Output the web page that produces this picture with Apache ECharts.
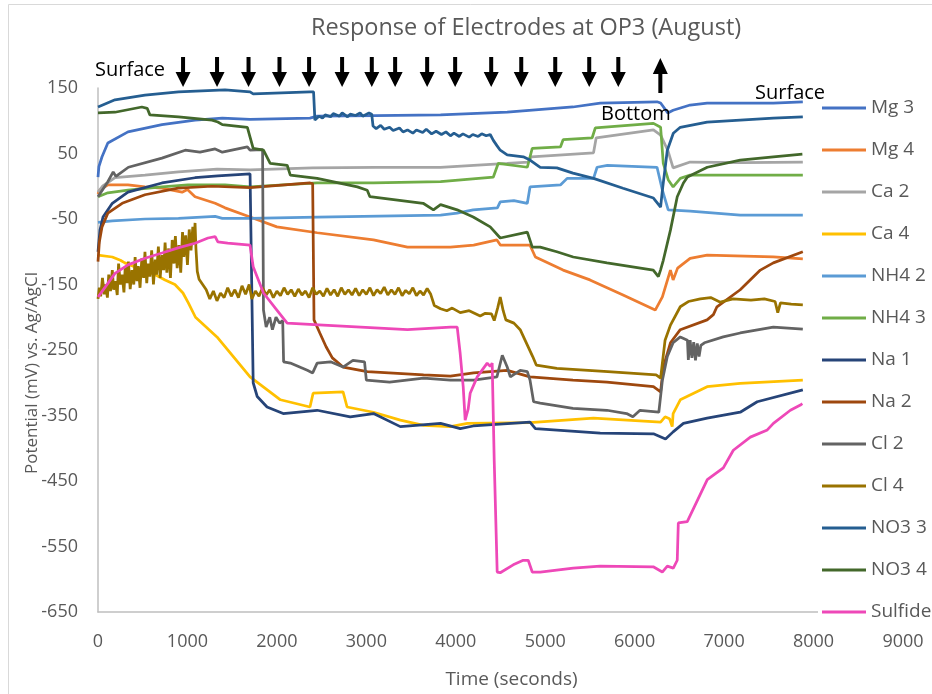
<!DOCTYPE html>
<html>
<head>
<meta charset="utf-8">
<script src="https://cdn.jsdelivr.net/npm/echarts@6/dist/echarts.min.js"></script>
<style>
  html, body { margin: 0; padding: 0; background: #ffffff; }
  #chart { width: 932px; height: 694px; }
</style>
</head>
<body>
<div id="chart"></div>
<script>
// Electrode potentials (mV vs. Ag/AgCl) against time (s), one [time, mV] list per electrode.
const mg3 = [[0,14],[10,30],[45,45],[110,66],[335,83],[715,94],[1085,101],[1390,104],[1700,102],[1720,100],[2370,104],[2450,107],[3100,108],[3830,109],[4575,113],[5310,121],[5615,127],[6250,129],[6290,127],[6370,112],[6430,116],[6620,124],[6810,127],[7550,127],[7880,129]];
const mg4 = [[0,-12],[20,-6],[110,2],[335,2],[525,-1],[715,-3],[940,-9],[1000,-5],[1085,-16],[1310,-26],[1420,-33],[1700,-47],[2000,-62],[2450,-71],[3080,-82],[3460,-93],[3940,-93],[4200,-90],[4460,-82],[4500,-90],[4830,-90],[4890,-108],[5200,-128],[5500,-143],[5870,-166],[6230,-189],[6310,-169],[6400,-128],[6430,-143],[6480,-125],[6620,-110],[6810,-105],[7550,-108],[7880,-111]];
const ca2 = [[0,-9],[50,0],[190,13],[525,17],[900,22],[1330,26],[1700,25],[2400,28],[3100,29],[3830,29],[4200,32],[4575,35],[4810,37],[4845,45],[5540,51],[5570,74],[6210,86],[6290,78],[6370,55],[6430,28],[6620,37],[7200,36],[7880,37]];
const ca4 = [[0,-105],[160,-108],[250,-113],[300,-117],[450,-125],[640,-135],[750,-143],[860,-150],[950,-163],[1010,-178],[1090,-200],[1330,-230],[1700,-291],[2040,-326],[2370,-337],[2405,-316],[2740,-314],[2785,-337],[3080,-345],[3380,-357],[3640,-365],[3940,-367],[4130,-362],[4830,-361],[5540,-354],[6290,-360],[6340,-352],[6390,-355],[6420,-367],[6430,-347],[6510,-326],[6810,-306],[7180,-301],[7880,-296]];
const nh42 = [[0,-55],[160,-53],[525,-50],[900,-49],[1310,-46],[1390,-49],[1700,-49],[2450,-47],[3830,-44],[4015,-41],[4195,-36],[4465,-33],[4497,-24],[4650,-22],[4800,-26],[4830,-1],[5170,2],[5245,12],[5540,12],[5580,29],[5695,32],[6250,29],[6310,-6],[6375,-36],[6620,-38],[7180,-44],[7880,-44]];
const nh43 = [[0,-16],[110,-10],[335,-6],[715,-1],[1005,2],[1420,2],[1700,-1],[2450,5],[3080,5],[3830,7],[4420,14],[4475,35],[4800,29],[4855,58],[5170,60],[5200,71],[5525,74],[5560,89],[6210,96],[6290,90],[6320,35],[6375,10],[6430,-1],[6510,12],[6620,17],[7880,17]];
const na1 = [[0,-100],[22,-67],[56,-47],[160,-26],[335,-9],[715,5],[1085,13],[1340,16],[1700,19],[1722,18],[1735,-300],[1780,-321],[1890,-337],[2070,-347],[2450,-342],[2820,-352],[3080,-347],[3380,-367],[3830,-362],[4050,-370],[4195,-366],[4830,-360],[4890,-370],[5615,-377],[6210,-378],[6345,-386],[6430,-375],[6545,-362],[6810,-354],[7180,-345],[7370,-329],[7880,-311]];
const na2 = [[0,-115],[15,-85],[45,-62],[110,-41],[270,-26],[525,-13],[895,-3],[1275,0],[1700,-2],[2370,5],[2400,4],[2415,-204],[2480,-224],[2550,-245],[2620,-262],[2740,-276],[3010,-283],[3640,-288],[3940,-290],[4200,-285],[4575,-281],[4830,-291],[5310,-296],[5690,-299],[6210,-306],[6290,-314],[6320,-276],[6400,-239],[6510,-219],[6810,-204],[6880,-196],[6920,-184],[7180,-158],[7405,-128],[7550,-117],[7880,-100]];
const cl2 = [[0,-16],[110,7],[170,22],[200,15],[340,29],[715,43],[975,55],[1140,52],[1310,57],[1390,52],[1670,60],[1700,55],[1840,56],[1850,-189],[1880,-215],[1920,-200],[1950,-219],[1990,-200],[2030,-209],[2065,-205],[2075,-268],[2150,-270],[2340,-281],[2400,-285],[2450,-270],[2600,-268],[2740,-276],[2850,-266],[2980,-268],[3000,-296],[3260,-299],[3640,-293],[3940,-296],[4200,-296],[4460,-291],[4520,-258],[4575,-276],[4610,-291],[4720,-281],[4800,-283],[4830,-296],[4870,-329],[4944,-331],[5310,-339],[5690,-342],[5910,-347],[5980,-352],[6060,-342],[6270,-345],[6310,-296],[6365,-260],[6430,-239],[6510,-230],[6590,-235],[6600,-265],[6620,-235],[6640,-262],[6660,-238],[6680,-266],[6700,-240],[6720,-260],[6740,-243],[6780,-239],[6990,-230],[7180,-224],[7550,-215],[7880,-218]];
const cl4 = [[0,-172],[15,-155],[30,-168],[50,-140],[70,-165],[85,-150],[105,-170],[120,-135],[140,-160],[160,-128],[175,-158],[195,-145],[215,-166],[230,-118],[250,-150],[270,-135],[290,-162],[305,-122],[325,-148],[340,-115],[360,-157],[380,-128],[400,-150],[415,-108],[435,-145],[450,-122],[470,-155],[490,-110],[510,-140],[525,-100],[545,-148],[560,-118],[580,-138],[600,-98],[620,-150],[640,-112],[655,-135],[675,-92],[695,-140],[715,-105],[735,-128],[750,-86],[770,-132],[790,-95],[810,-140],[830,-82],[850,-118],[865,-76],[885,-125],[905,-90],[925,-132],[945,-70],[960,-108],[980,-75],[1000,-120],[1020,-66],[1040,-98],[1060,-62],[1075,-88],[1085,-56],[1095,-95],[1110,-130],[1130,-142],[1170,-150],[1210,-158],[1250,-172],[1290,-160],[1330,-175],[1370,-163],[1410,-170],[1450,-155],[1490,-168],[1530,-158],[1570,-170],[1610,-152],[1650,-165],[1690,-150],[1720,-172],[1760,-160],[1800,-168],[1840,-155],[1880,-166],[1920,-158],[1960,-170],[2000,-160],[2040,-167],[2080,-155],[2120,-165],[2160,-158],[2200,-168],[2240,-157],[2280,-166],[2320,-160],[2360,-170],[2400,-155],[2440,-165],[2480,-160],[2520,-168],[2560,-156],[2600,-166],[2640,-158],[2680,-168],[2720,-155],[2760,-165],[2800,-158],[2840,-166],[2880,-156],[2920,-167],[2960,-158],[3000,-165],[3040,-155],[3080,-167],[3120,-158],[3160,-164],[3200,-154],[3240,-166],[3280,-158],[3320,-165],[3360,-155],[3400,-167],[3440,-159],[3480,-164],[3520,-155],[3560,-167],[3600,-160],[3640,-166],[3680,-156],[3720,-165],[3760,-182],[3830,-187],[3900,-190],[3960,-186],[4050,-193],[4150,-190],[4273,-198],[4330,-194],[4400,-195],[4430,-205],[4470,-185],[4497,-169],[4530,-190],[4560,-204],[4650,-209],[4720,-219],[4860,-260],[4900,-273],[5130,-278],[5700,-283],[6240,-288],[6290,-293],[6340,-235],[6400,-212],[6510,-184],[6600,-176],[6734,-172],[6850,-170],[6958,-177],[7100,-172],[7300,-174],[7450,-172],[7570,-176],[7600,-193],[7630,-178],[7750,-180],[7880,-181]];
const no33 = [[0,121],[190,132],[525,139],[900,144],[1420,147],[1700,144],[1735,141],[2370,144],[2410,144],[2425,101],[2470,107],[2510,104],[2540,109],[2600,106],[2630,111],[2700,107],[2730,112],[2790,106],[2820,110],[2880,108],[2930,112],[2960,107],[3030,112],[3060,110],[3075,92],[3110,88],[3160,93],[3200,87],[3260,90],[3300,85],[3370,89],[3410,83],[3460,86],[3520,81],[3560,86],[3630,82],[3670,87],[3730,80],[3780,84],[3840,79],[3890,83],[3940,77],[3980,81],[4040,76],[4080,80],[4150,75],[4190,79],[4250,76],[4290,80],[4340,77],[4385,79],[4420,70],[4460,62],[4497,55],[4575,48],[4755,45],[4830,40],[4944,29],[5130,28],[5310,20],[5540,12],[5870,-3],[6210,-18],[6290,-32],[6310,-6],[6365,55],[6432,81],[6510,90],[6810,98],[7180,101],[7550,104],[7880,106]];
const no34 = [[0,112],[190,113],[490,121],[550,119],[580,109],[900,106],[1275,101],[1340,98],[1390,94],[1670,90],[1700,75],[1735,58],[1850,55],[1925,35],[2115,32],[2150,17],[2450,12],[2900,-1],[3010,-6],[3040,-16],[3635,-26],[3750,-36],[3830,-28],[4015,-36],[4195,-47],[4385,-62],[4497,-79],[4800,-70],[4855,-93],[4944,-93],[5130,-100],[5313,-108],[5690,-117],[6208,-128],[6265,-138],[6289,-128],[6320,-113],[6400,-67],[6476,-16],[6545,5],[6590,14],[6812,29],[7180,40],[7551,45],[7875,49]];
const sulfide = [[0,-169],[80,-154],[190,-133],[335,-120],[525,-110],[715,-102],[895,-94],[1085,-87],[1230,-79],[1310,-77],[1340,-85],[1450,-87],[1700,-90],[1735,-123],[1850,-163],[2000,-189],[2115,-209],[2520,-212],[3460,-219],[3940,-215],[4016,-215],[4049,-255],[4083,-306],[4105,-357],[4139,-340],[4161,-316],[4240,-291],[4351,-270],[4385,-275],[4407,-270],[4430,-420],[4463,-589],[4497,-590],[4642,-578],[4754,-571],[4810,-571],[4855,-589],[4944,-589],[5313,-583],[5615,-580],[6208,-581],[6309,-589],[6365,-580],[6432,-583],[6476,-571],[6488,-514],[6588,-512],[6812,-448],[6991,-430],[7103,-403],[7293,-383],[7483,-372],[7551,-362],[7741,-342],[7853,-334],[7875,-332]];

const seriesNames = ['Mg 3', 'Mg 4', 'Ca 2', 'Ca 4', 'NH4 2', 'NH4 3', 'Na 1', 'Na 2', 'Cl 2', 'Cl 4', 'NO3 3', 'NO3 4', 'Sulfide'];
const seriesData = [mg3, mg4, ca2, ca4, nh42, nh43, na1, na2, cl2, cl4, no33, no34, sulfide];
const seriesColors = ['#4472C4', '#ED7D31', '#A5A5A5', '#FFC000', '#5B9BD5', '#70AD47', '#264478', '#9E480E', '#636363', '#997300', '#255E91', '#43682B', '#EE48B8'];

// Profiling steps: electrode lowered at each of these times, raised once at the end.
const lowerTimes = [951, 1331, 1683, 2029, 2360, 2729, 3061, 3322, 3680, 3993, 4396, 4732, 5112, 5492, 5817];
const raiseTime = 6287;

const FONT = '"Open Sans", "Noto Sans", sans-serif';
const GREY_TEXT = '#595959';

const chart = echarts.init(document.getElementById('chart'), null, { renderer: 'canvas' });

const option = {
  animation: false,
  backgroundColor: '#ffffff',
  textStyle: { fontFamily: FONT },
  title: {
    text: 'Response of Electrodes at OP3 (August)',
    left: 306,
    top: 11,
    textStyle: { color: GREY_TEXT, fontSize: 23.5, fontWeight: 'normal', fontFamily: FONT }
  },
  grid: { left: 98, right: 29, top: 88, bottom: 82, containLabel: false },
  xAxis: {
    type: 'value',
    min: 0, max: 9000, interval: 1000,
    name: 'Time (seconds)',
    nameLocation: 'middle',
    nameGap: 58,
    nameMoveOverlap: false,
    nameTextStyle: { color: GREY_TEXT, fontSize: 19, fontFamily: FONT, padding: [0, 0, 0, 22] },
    axisLine: { show: true, onZero: false, lineStyle: { color: '#BFBFBF', width: 1.5 } },
    axisTick: { show: false },
    splitLine: { show: false },
    axisLabel: { color: GREY_TEXT, fontSize: 18, margin: 21, fontFamily: FONT, formatter: v => String(v) }
  },
  yAxis: {
    type: 'value',
    min: -650, max: 150, interval: 100,
    name: 'Potential (mV) vs. Ag/AgCl',
    nameLocation: 'middle',
    nameGap: 57,
    nameRotate: 90,
    nameMoveOverlap: false,
    nameTextStyle: { color: GREY_TEXT, fontSize: 17, fontFamily: FONT, padding: [0, 46, 0, 0] },
    axisLine: { show: true, onZero: false, lineStyle: { color: '#BFBFBF', width: 1.5 } },
    axisTick: { show: false },
    splitLine: { show: false },
    axisLabel: { color: GREY_TEXT, fontSize: 18, margin: 20, fontFamily: FONT }
  },
  legend: {
    data: seriesNames,
    orient: 'vertical',
    left: 818,
    top: 93,
    padding: [5, 4, 5, 4],
    itemWidth: 44,
    itemHeight: 14,
    itemGap: 22,
    icon: 'path://M0,0L44,0L44,3L0,3Z',
    backgroundColor: '#ffffff',
    textStyle: { color: GREY_TEXT, fontSize: 19, lineHeight: 20, fontFamily: FONT }
  },
  series: seriesNames.map((name, i) => ({
    name: name,
    type: 'line',
    data: seriesData[i],
    showSymbol: false,
    symbol: 'none',
    color: seriesColors[i],
    lineStyle: { color: seriesColors[i], width: 2.75 },
    emphasis: { disabled: true }
  }))
};

chart.setOption(option);

// Annotations: profiling arrows placed at their times on the x axis, plus position labels.
function downArrow(cx) {
  return [[cx - 2, 57], [cx + 2, 57], [cx + 2, 72], [cx + 7.5, 72], [cx, 87], [cx - 7.5, 72], [cx - 2, 72]];
}
function upArrow(cx) {
  return [[cx, 58], [cx + 7.5, 74], [cx + 2, 74], [cx + 2, 93], [cx - 2, 93], [cx - 2, 74], [cx - 7.5, 74]];
}

const graphics = [
  {
    type: 'rect', z: 0, silent: true,
    shape: { x: 8.5, y: 4.5, width: 1000, height: 1000 },
    style: { fill: 'none', stroke: '#D9D9D9', lineWidth: 1 }
  }
];
lowerTimes.forEach(t => {
  const x = chart.convertToPixel({ xAxisIndex: 0 }, t);
  graphics.push({ type: 'polygon', z: 100, silent: true, shape: { points: downArrow(x) }, style: { fill: '#000000' } });
});
graphics.push({
  type: 'polygon', z: 100, silent: true,
  shape: { points: upArrow(chart.convertToPixel({ xAxisIndex: 0 }, raiseTime)) },
  style: { fill: '#000000' }
});
const labelStyle = { fill: '#000000', fontSize: 20, fontFamily: FONT, textVerticalAlign: 'middle' };
graphics.push({ type: 'text', z: 100, silent: true, x: 95, y: 70, style: Object.assign({ text: 'Surface' }, labelStyle) });
graphics.push({ type: 'text', z: 100, silent: true, x: 601, y: 114, style: Object.assign({ text: 'Bottom' }, labelStyle) });
graphics.push({ type: 'text', z: 100, silent: true, x: 755, y: 93, style: Object.assign({ text: 'Surface' }, labelStyle) });

chart.setOption({ graphic: graphics });
</script>
</body>
</html>
